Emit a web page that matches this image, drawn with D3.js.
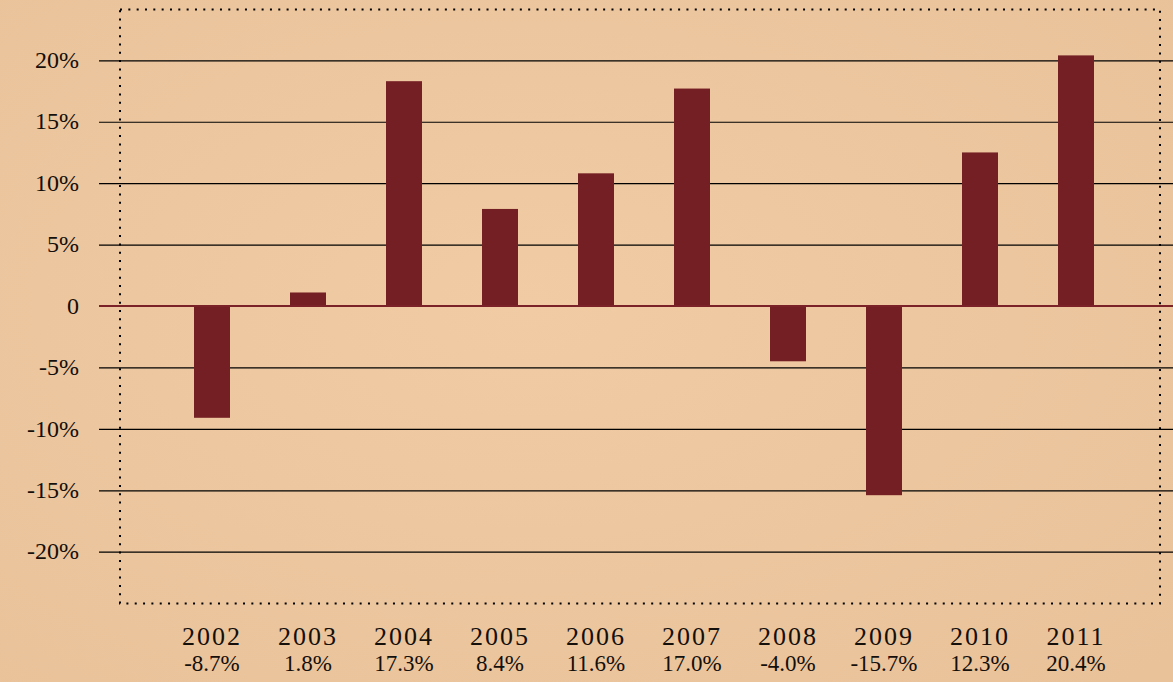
<!DOCTYPE html>
<html>
<head>
<meta charset="utf-8">
<script src="https://cdn.jsdelivr.net/npm/d3@7"></script>
<style>
  html, body { margin: 0; padding: 0; background: #edc8a0; }
  svg { display: block; }
</style>
</head>
<body>
<div id="chart"></div>
<script>
// data
const years = ["2002", "2003", "2004", "2005", "2006", "2007", "2008", "2009", "2010", "2011"];
const barValues = [-9.1, 1.1, 18.3, 7.9, 10.8, 17.7, -4.5, -15.4, 12.5, 20.4];
const returnLabels = ["-8.7%", "1.8%", "17.3%", "8.4%", "11.6%", "17.0%", "-4.0%", "-15.7%", "12.3%", "20.4%"];
const yTicks = [-20, -15, -10, -5, 0, 5, 10, 15, 20];

const width = 1173, height = 682;
const font = "'Liberation Serif', 'DejaVu Serif', serif";

const svg = d3.select("#chart")
    .append("svg")
    .attr("width", width)
    .attr("height", height);

// parchment background
const defs = svg.append("defs");
const grad = defs.append("radialGradient").attr("id", "paper")
    .attr("cx", "45%").attr("cy", "45%").attr("r", "75%");
grad.append("stop").attr("offset", "0%").attr("stop-color", "#f0cba3");
grad.append("stop").attr("offset", "100%").attr("stop-color", "#e9c29a");
svg.append("rect")
    .attr("width", width)
    .attr("height", height)
    .attr("fill", "url(#paper)");

const x = d3.scaleBand()
    .domain(years)
    .range([164, 1124])
    .paddingInner(0.625)
    .paddingOuter(0.3125);

const y = d3.scaleLinear()
    .domain([-20, 20])
    .range([551.7, 60.3]);

// gridlines + y labels
const yAxis = svg.append("g")
    .attr("transform", "translate(99,0)")
    .call(d3.axisLeft(y)
        .tickValues(yTicks)
        .tickSize(-(width - 99))
        .tickPadding(20)
        .tickFormat(d => d === 0 ? "0" : d + "%"));
yAxis.select(".domain").remove();
yAxis.selectAll(".tick line")
    .attr("stroke", "#000")
    .attr("stroke-width", 1.2)
    .attr("x2", width - 99)
    .attr("x1", 0);
yAxis.selectAll(".tick text")
    .attr("fill", "#140f0b")
    .style("font-family", font)
    .style("font-size", "24px")
    .attr("dy", "0.3em");

// dotted frame
svg.append("rect")
    .attr("x", 120)
    .attr("y", 9.5)
    .attr("width", 1040)
    .attr("height", 594)
    .attr("fill", "none")
    .attr("stroke", "#000")
    .attr("stroke-width", 2)
    .attr("stroke-dasharray", "2 6.33");

// bars
svg.append("g")
    .selectAll("rect")
    .data(years.map((yr, i) => ({ year: yr, value: barValues[i] })))
    .join("rect")
    .attr("x", d => x(d.year))
    .attr("width", x.bandwidth())
    .attr("y", d => y(Math.max(0, d.value)))
    .attr("height", d => Math.abs(y(d.value) - y(0)))
    .attr("fill", "#741f24");

// zero line
svg.append("line")
    .attr("x1", 99)
    .attr("x2", width)
    .attr("y1", y(0))
    .attr("y2", y(0))
    .attr("stroke", "#7a2227")
    .attr("stroke-width", 2);

// x labels: year and return
const xLabels = svg.append("g")
    .selectAll("text")
    .data(years.map((yr, i) => ({ year: yr, label: returnLabels[i] })))
    .join("text")
    .attr("text-anchor", "middle")
    .attr("fill", "#140f0b")
    .style("font-family", font);

xLabels.append("tspan")
    .attr("x", d => x(d.year) + x.bandwidth() / 2)
    .attr("y", 645)
    .style("font-size", "26px")
    .style("letter-spacing", "2px")
    .text(d => d.year);

xLabels.append("tspan")
    .attr("x", d => x(d.year) + x.bandwidth() / 2)
    .attr("y", 671)
    .style("font-size", "23px")
    .text(d => d.label);
</script>
</body>
</html>
